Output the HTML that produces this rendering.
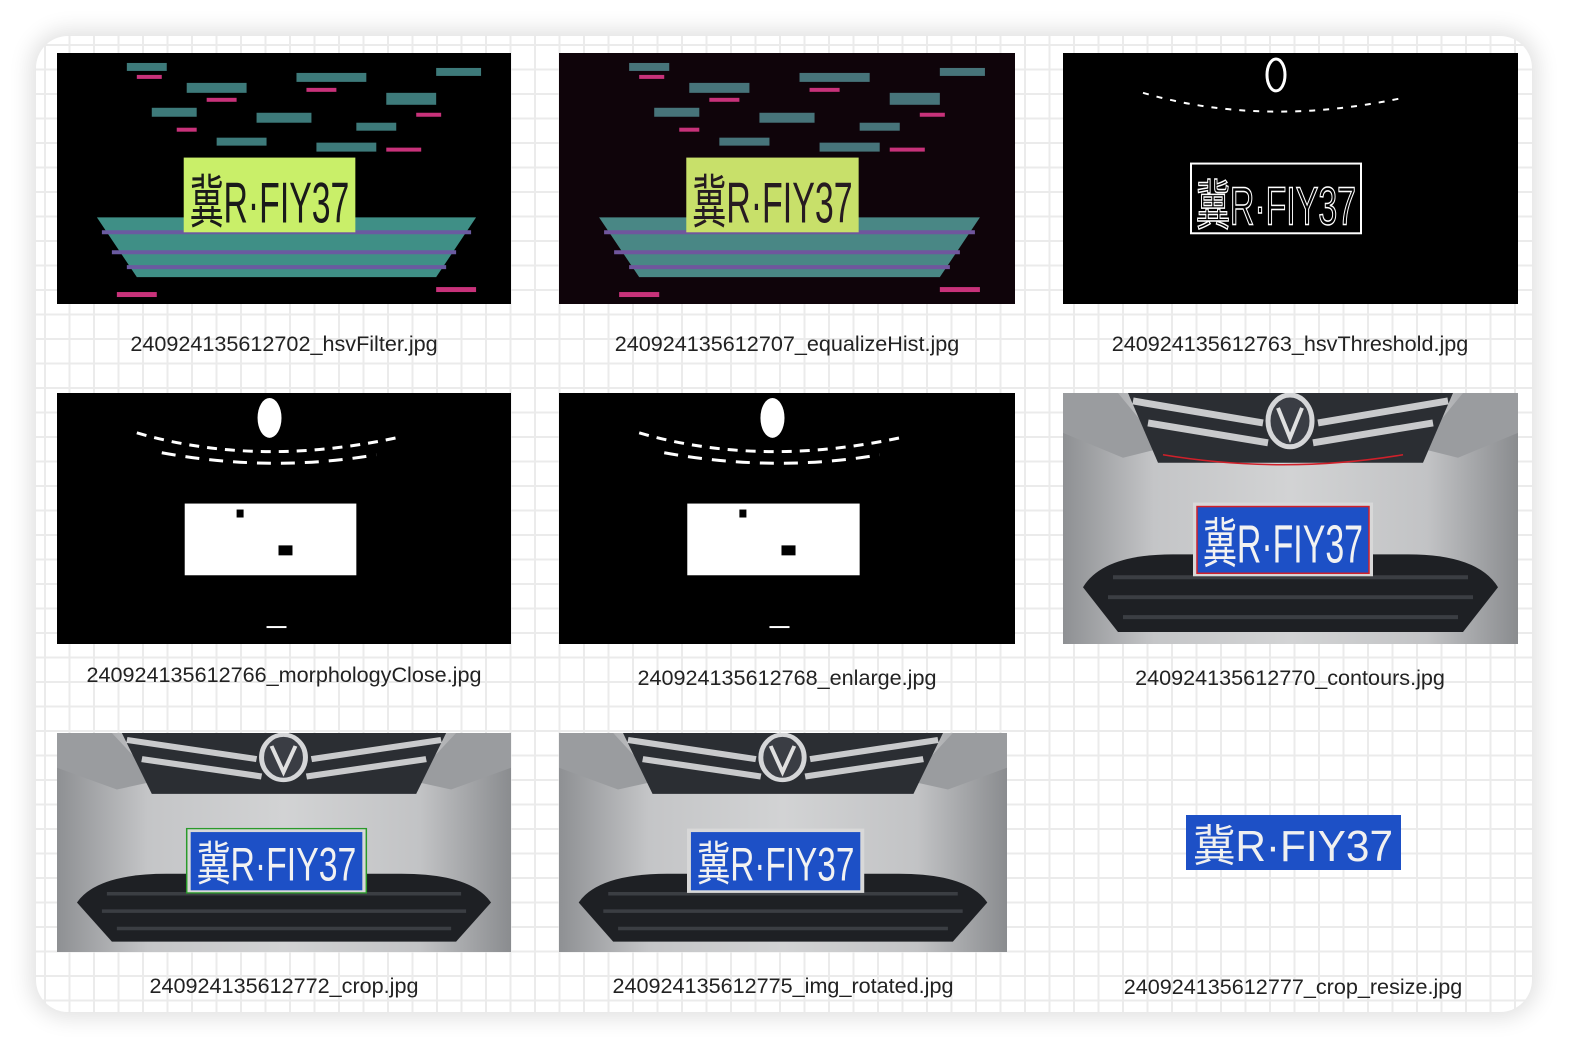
<!DOCTYPE html>
<html><head><meta charset="utf-8"><style>
html,body{margin:0;padding:0;width:1576px;height:1052px;background:#fff;overflow:hidden;font-family:"Liberation Sans","Noto Sans CJK SC",sans-serif}
.card{position:absolute;left:36px;top:36px;width:1496px;height:976px;border-radius:32px;background-color:#fff;
background-image:linear-gradient(#ebebeb 2px,transparent 2px),linear-gradient(90deg,#ebebeb 2px,transparent 2px);background-size:24.5px 24.5px;background-position:8px 8px;
box-shadow:0 0 22px 6px rgba(0,0,0,0.12)}
.img{position:absolute;overflow:hidden;background:#000}
.img svg{width:100%;height:100%;display:block}
.cap{position:absolute;width:500px;text-align:center;font-size:21.6px;color:#222}
</style></head><body>
<div class="card"></div>

<svg width="0" height="0" style="position:absolute">
<defs>
<linearGradient id="silver" x1="0" x2="1"><stop offset="0" stop-color="#8e9093"/><stop offset="0.2" stop-color="#c4c5c7"/><stop offset="0.5" stop-color="#d2d3d4"/><stop offset="0.8" stop-color="#c2c3c5"/><stop offset="1" stop-color="#8a8c8f"/></linearGradient>
<g id="car">
<rect width="455" height="252" fill="url(#silver)"/>
<polygon points="0,0 55,0 100,55 60,65 0,40" fill="#9a9c9f"/>
<polygon points="455,0 400,0 355,55 395,65 455,40" fill="#9a9c9f"/>
<polygon points="65,0 390,0 360,70 95,70" fill="#2b2e33"/>
<path d="M70,8 L200,30 M385,8 L255,30 M85,30 L205,50 M370,30 L250,50" stroke="#c9cacc" stroke-width="7"/>
<ellipse cx="227" cy="28" rx="22" ry="26" fill="#3a3d44" stroke="#d5d6d8" stroke-width="5"/>
<path d="M215,15 L227,45 L239,15" stroke="#e0e0e0" stroke-width="4" fill="none"/>
<path d="M20,195 Q40,162 110,162 L345,162 Q415,162 435,195 L400,240 L55,240 Z" fill="#1e2024"/>
<path d="M50,185 L405,185 M45,205 L410,205 M60,225 L395,225" stroke="#3b3e43" stroke-width="4"/>
<rect x="130" y="110" width="180" height="74" fill="#d8d8d8"/>
<rect x="134" y="114" width="172" height="67" fill="#1d50c6"/>
<text x="220" y="170" text-anchor="middle" font-size="54" fill="#f2f2f2" textLength="160" lengthAdjust="spacingAndGlyphs" font-family="Liberation Sans Narrow,Liberation Sans,Noto Sans CJK SC,sans-serif">冀R·FIY37</text>
</g>
<g id="hsv">
<rect width="455" height="252" fill="#000"/>
<g fill="#3d7a7a"><rect x="70" y="10" width="40" height="8"/><rect x="130" y="30" width="60" height="10"/><rect x="240" y="20" width="70" height="9"/><rect x="330" y="40" width="50" height="12"/><rect x="380" y="15" width="45" height="8"/><rect x="95" y="55" width="45" height="9"/><rect x="200" y="60" width="55" height="10"/><rect x="300" y="70" width="40" height="8"/><rect x="160" y="85" width="50" height="8"/><rect x="260" y="90" width="60" height="9"/></g>
<g fill="#c8327a"><rect x="80" y="22" width="25" height="4"/><rect x="150" y="45" width="30" height="4"/><rect x="250" y="35" width="30" height="4"/><rect x="360" y="60" width="25" height="4"/><rect x="120" y="75" width="20" height="4"/><rect x="330" y="95" width="35" height="4"/><rect x="60" y="240" width="40" height="5"/><rect x="380" y="235" width="40" height="5"/></g>
<path d="M40,165 L420,165 L380,225 L80,225 Z" fill="#3f8f86"/>
<path d="M45,180 L415,180 M55,200 L400,200 M70,215 L390,215" stroke="#6a5aa0" stroke-width="4"/>
<rect x="127" y="105" width="172" height="75" fill="#c9ef69"/>
<text x="213" y="170" text-anchor="middle" font-size="58" fill="#1a1a1a" textLength="160" lengthAdjust="spacingAndGlyphs" font-family="Liberation Sans,Noto Sans CJK SC,sans-serif">冀R·FIY37</text>
</g>
<g id="morph">
<rect width="455" height="252" fill="#000"/>
<ellipse cx="213" cy="25" rx="12" ry="20" fill="#fff"/>
<path d="M80,40 Q200,75 340,45" stroke="#fff" stroke-width="3" stroke-dasharray="10 8" fill="none"/>
<path d="M105,60 Q215,80 320,62" stroke="#fff" stroke-width="3" stroke-dasharray="14 10" fill="none"/>
<rect x="128" y="111" width="172" height="72" fill="#fff"/>
<rect x="180" y="117" width="7" height="8" fill="#000"/><rect x="222" y="153" width="14" height="10" fill="#000"/>
<rect x="210" y="234" width="20" height="2" fill="#fff"/>
</g>
</defs>
</svg>

<!-- row 1 -->
<div class="img" style="left:57px;top:53px;width:454px;height:251px"><svg viewBox="0 0 455 252" preserveAspectRatio="none"><use href="#hsv"/></svg></div>
<div class="img" style="left:559px;top:53px;width:456px;height:251px"><svg viewBox="0 0 455 252" preserveAspectRatio="none"><use href="#hsv"/><rect width="455" height="252" fill="#c0307a" opacity="0.08"/></svg></div>
<div class="img" style="left:1063px;top:53px;width:455px;height:251px"><svg viewBox="0 0 455 252" preserveAspectRatio="none">
<rect width="455" height="252" fill="#000"/>
<ellipse cx="213" cy="22" rx="9" ry="16" fill="none" stroke="#fff" stroke-width="3"/>
<path d="M80,40 Q200,75 340,45" stroke="#fff" stroke-width="2" stroke-dasharray="6 8" fill="none"/>
<rect x="128" y="111" width="170" height="70" fill="none" stroke="#fff" stroke-width="2"/>
<text x="213" y="172" text-anchor="middle" font-size="54" fill="none" stroke="#fff" stroke-width="1.5" textLength="160" lengthAdjust="spacingAndGlyphs" font-family="Liberation Sans,Noto Sans CJK SC,sans-serif">冀R·FIY37</text>
</svg></div>
<div class="cap" style="left:34px;top:331px">240924135612702_hsvFilter.jpg</div>
<div class="cap" style="left:537px;top:331px">240924135612707_equalizeHist.jpg</div>
<div class="cap" style="left:1040px;top:331px">240924135612763_hsvThreshold.jpg</div>

<!-- row 2 -->
<div class="img" style="left:57px;top:393px;width:454px;height:251px"><svg viewBox="0 0 455 252" preserveAspectRatio="none"><use href="#morph"/></svg></div>
<div class="img" style="left:559px;top:393px;width:456px;height:251px"><svg viewBox="0 0 455 252" preserveAspectRatio="none"><use href="#morph"/></svg></div>
<div class="img" style="left:1063px;top:393px;width:455px;height:251px"><svg viewBox="0 0 455 252" preserveAspectRatio="none"><use href="#car"/><rect x="134" y="114" width="172" height="67" fill="none" stroke="#d0202a" stroke-width="1.5"/><path d="M100,62 Q220,82 340,62" stroke="#d0202a" stroke-width="1.5" fill="none"/></svg></div>
<div class="cap" style="left:34px;top:662px">240924135612766_morphologyClose.jpg</div>
<div class="cap" style="left:537px;top:665px">240924135612768_enlarge.jpg</div>
<div class="cap" style="left:1040px;top:665px">240924135612770_contours.jpg</div>

<!-- row 3 -->
<div class="img" style="left:57px;top:733px;width:454px;height:219px"><svg viewBox="0 0 455 252" preserveAspectRatio="none"><use href="#car"/><rect x="130" y="110" width="180" height="74" fill="none" stroke="#2a9a2a" stroke-width="1.5"/></svg></div>
<div class="img" style="left:559px;top:733px;width:448px;height:219px"><svg viewBox="0 0 455 252" preserveAspectRatio="none"><use href="#car"/></svg></div>
<div class="img" style="left:1186px;top:815px;width:215px;height:55px;background:#1d50c6"><svg viewBox="0 0 215 55" preserveAspectRatio="none"><rect width="215" height="55" fill="#1d50c6"/><text x="107" y="46" text-anchor="middle" font-size="44" fill="#f0f0f0" textLength="200" lengthAdjust="spacingAndGlyphs" font-family="Liberation Sans,Noto Sans CJK SC,sans-serif">冀R·FIY37</text></svg></div>
<div class="cap" style="left:34px;top:973px">240924135612772_crop.jpg</div>
<div class="cap" style="left:533px;top:973px">240924135612775_img_rotated.jpg</div>
<div class="cap" style="left:1043px;top:974px">240924135612777_crop_resize.jpg</div>
</body></html>
